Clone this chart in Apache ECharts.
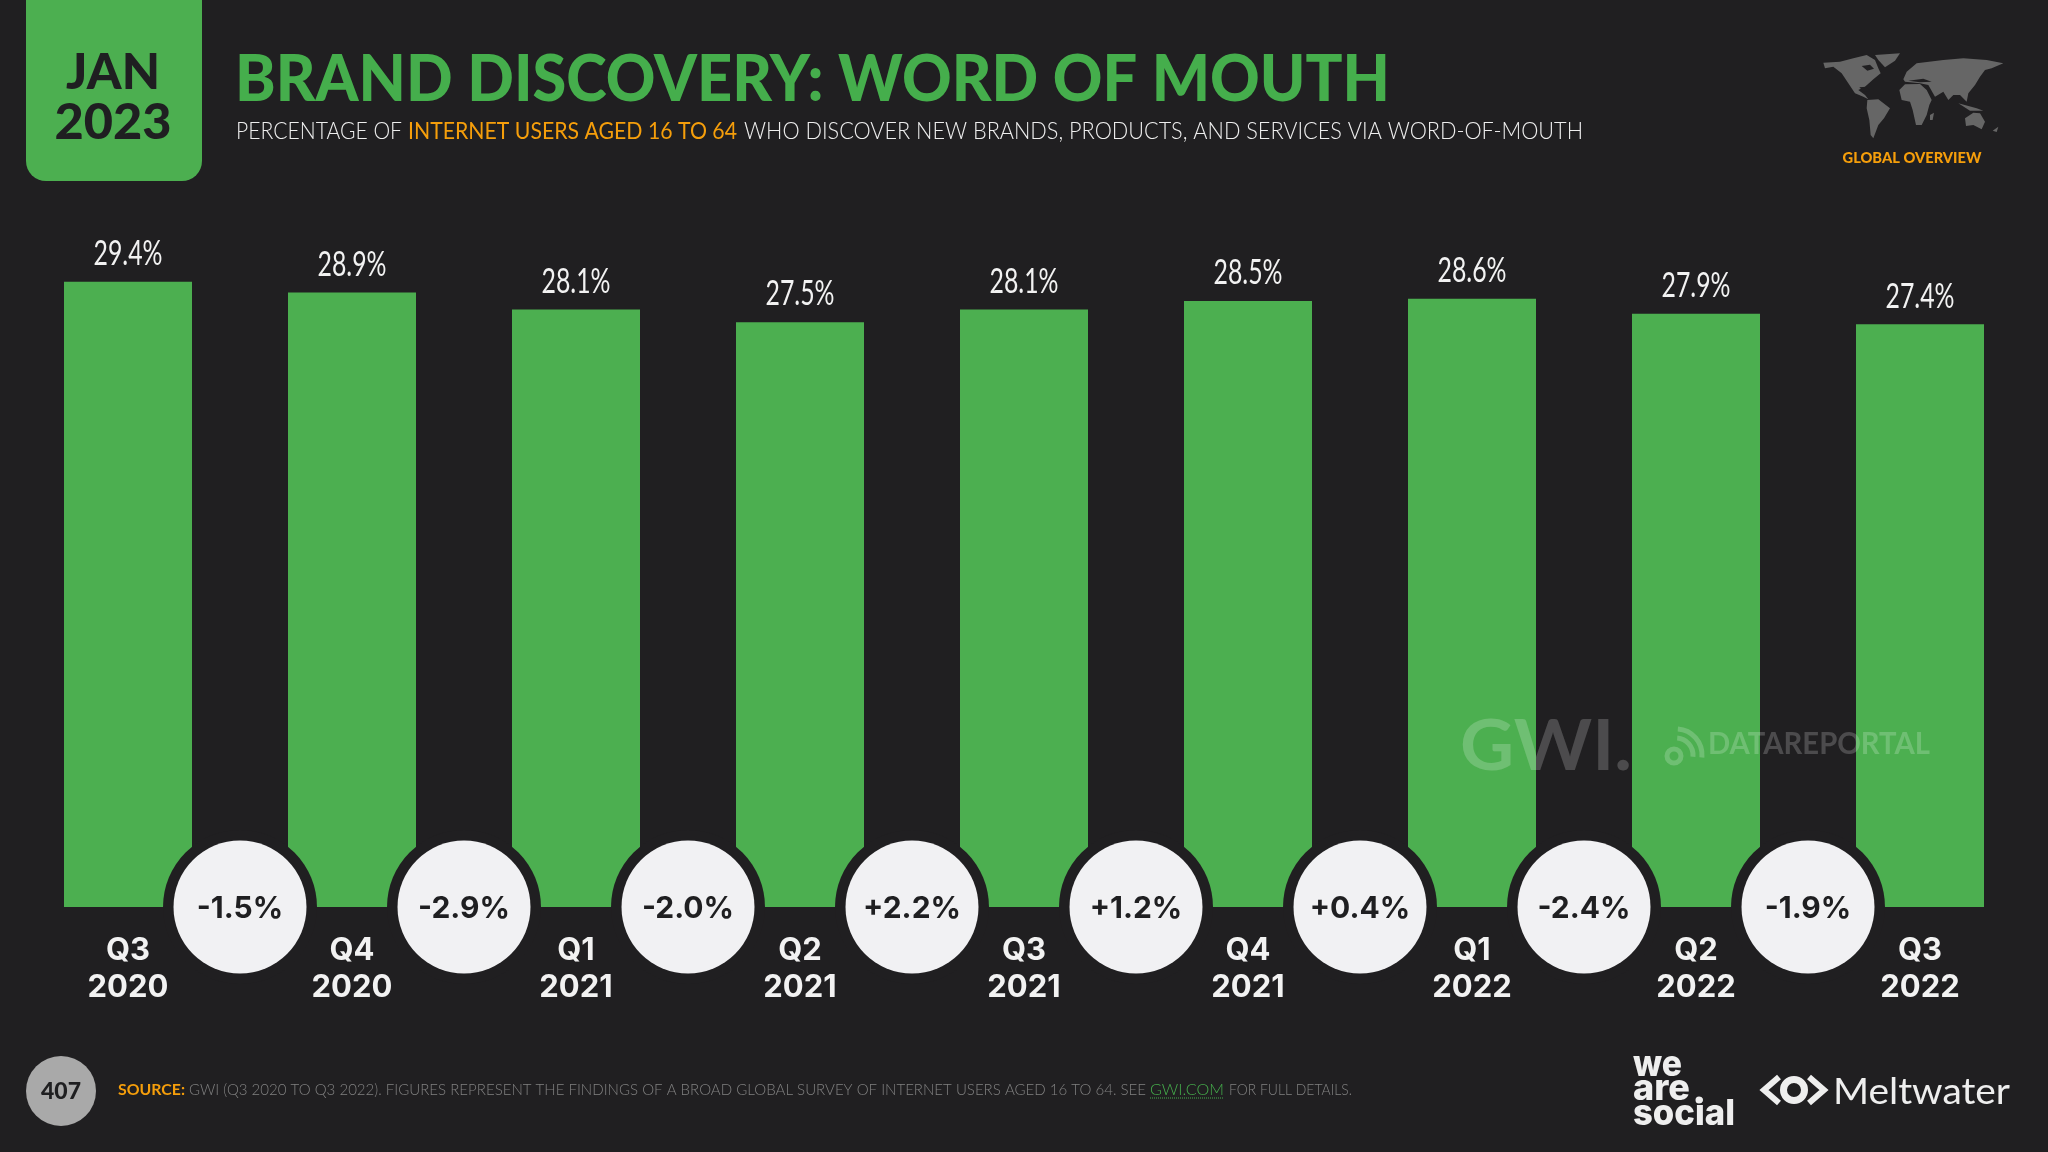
<!DOCTYPE html>
<html>
<head>
<meta charset="utf-8">
<style>html,body{margin:0;background:#201f21}#chart{width:2048px;height:1152px}</style>
<script src="https://cdn.jsdelivr.net/npm/echarts@6/dist/echarts.min.js"></script>
</head>
<body>
<div id="chart"></div>
<script>
var quarters = ['Q3\n2020','Q4\n2020','Q1\n2021','Q2\n2021','Q3\n2021','Q4\n2021','Q1\n2022','Q2\n2022','Q3\n2022'];
var shares = [29.4,28.9,28.1,27.5,28.1,28.5,28.6,27.9,27.4];
var changes = ['-1.5%','-2.9%','-2.0%','+2.2%','+1.2%','+0.4%','-2.4%','-1.9%'];

var BG = '#201f21', GREEN = '#4caf50', TITLE_GREEN = '#45ae4c', ORANGE = '#f59e0b', INK = '#1f1f21', LOGO = '#eeeeee', SOURCE_GREY = '#808080';
var WATERMARK = 'rgba(255,255,255,0.2)';

// no condensed font on the box, so text gets squeezed to the width it has in the picture
var measure = document.createElement('canvas').getContext('2d');
function textWidth(text, font) {
    measure.font = font;
    return measure.measureText(text).width;
}
function fitText(text, font, width, x, y, fill, align) {
    return { type: 'text', x: x, y: y, scaleX: width / textWidth(text, font), z: 10,
        style: { text: text, font: font, fill: fill, align: align || 'left', verticalAlign: 'middle' } };
}

// world map behind GLOBAL OVERVIEW, rough outlines only
var mapShapes = [
    [[40,68],[90,65],[130,55],[170,45],[195,60],[205,85],[212,100],[190,118],[165,140],[145,150],[165,165],[175,178],[160,170],[135,160],[115,130],[95,100],[70,80],[45,85]],
    [[195,45],[270,40],[255,62],[225,82],[205,60]],
    [[172,180],[205,178],[240,205],[222,235],[205,255],[190,295],[182,285],[178,240],[170,205]],
    [[268,150],[285,133],[330,132],[350,150],[365,180],[358,195],[350,225],[335,255],[318,255],[308,210],[300,185],[275,180]],
    [[280,118],[290,95],[320,70],[400,60],[460,55],[530,60],[580,70],[545,85],[525,90],[510,110],[495,135],[475,160],[470,185],[450,165],[430,165],[415,180],[400,155],[375,170],[355,135],[330,130],[285,125]],
    [[465,235],[490,218],[510,220],[525,245],[515,268],[490,255],[468,258]],
    [[360,225],[372,218],[368,240],[360,240]],
    [[445,190],[500,205],[520,212],[480,212]],
    [[548,272],[565,260],[560,276]]
];
var mapSeas = [
    [[155,78],[180,74],[192,86],[172,92]],
    [[148,142],[170,140],[180,152],[162,156]],
    [[295,122],[340,116],[365,125],[330,127]]
];
var mapGroup = { type: 'group', x: 1810, y: 40, scaleX: 1 / 3, scaleY: 1 / 3,
    children: mapShapes.map(function (p) {
        return { type: 'polygon', shape: { points: p }, style: { fill: '#666666' } };
    }).concat(mapSeas.map(function (p) {
        return { type: 'polygon', shape: { points: p }, style: { fill: BG } };
    }))
};

var subFont = '300 23px Lato';
var srcFont = '300 16px Lato';

// the change bubbles sit on the baseline, half way between two bars
var bubblePoints = changes.map(function (c, i) { return [i + 1, 0, c]; });
var valuePoints = shares.map(function (v, i) { return [i, v]; });

var labelFont = '35px Lato';
function renderValueLabel(params, api) {
    var top = api.coord([api.value(0), api.value(1)]);
    var text = api.value(1).toFixed(1) + '%';
    return { type: 'text', x: top[0], y: top[1] - 28, scaleX: 69 / textWidth(text, labelFont),
        style: { text: text, font: labelFont, fill: '#f2f2f2', align: 'center', verticalAlign: 'middle' } };
}

var myChart = echarts.init(document.getElementById('chart'));
myChart.setOption({
    backgroundColor: BG,
    animation: false,
    grid: { left: 16, right: 16, top: 269, height: 638 },
    xAxis: [
        { type: 'category', data: quarters, axisLine: { show: false }, axisTick: { show: false },
          axisLabel: { color: '#f2f2f2', fontFamily: 'Inter', fontWeight: 'bold', fontSize: 31, lineHeight: 37, margin: 25 } },
        { type: 'value', min: 0, max: 9, show: false }
    ],
    yAxis: { type: 'value', min: 0, max: 30, show: false },
    series: [
        { type: 'bar', data: shares, barWidth: 128, itemStyle: { color: GREEN } },
        { type: 'custom', data: valuePoints, renderItem: renderValueLabel, clip: false, silent: true },
        { type: 'scatter', xAxisIndex: 1, data: bubblePoints, symbolSize: 154, clip: false, itemStyle: { color: BG, opacity: 1 }, silent: true },
        { type: 'scatter', xAxisIndex: 1, data: bubblePoints, symbolSize: 133, clip: false, itemStyle: { color: '#f1f1f3', opacity: 1 },
          label: { show: true, position: 'inside', offset: [0, 2], color: INK, fontFamily: 'Inter', fontWeight: 'bold', fontSize: 30,
                   formatter: function (p) { return p.value[2]; } } }
    ],
    graphic: [
        { type: 'rect', shape: { x: 26, y: -30, width: 176, height: 211, r: 20 }, style: { fill: GREEN } },
        fitText('JAN', '900 50px Lato', 94, 113, 73, INK, 'center'),
        fitText('2023', '900 50px Lato', 117, 113, 123, INK, 'center'),
        fitText('BRAND DISCOVERY: WORD OF MOUTH', '900 64px Lato', 1155, 235, 80, TITLE_GREEN),
        fitText('PERCENTAGE OF', subFont, 166, 236, 132, LOGO),
        fitText('INTERNET USERS AGED 16 TO 64', '23px Lato', 329, 408, 132, ORANGE),
        fitText('WHO DISCOVER NEW BRANDS, PRODUCTS, AND SERVICES VIA WORD-OF-MOUTH', subFont, 839, 744, 132, LOGO),
        mapGroup,
        fitText('GLOBAL OVERVIEW', '900 15px Lato', 139, 1912, 158, ORANGE, 'center'),
        { type: 'circle', shape: { cx: 61, cy: 1091, r: 35 }, style: { fill: '#a9a9a9' } },
        fitText('407', '900 23px Lato', 40, 61, 1092, INK, 'center'),
        fitText('SOURCE:', 'bold 16px Lato', 67, 118, 1090, ORANGE),
        fitText('GWI (Q3 2020 TO Q3 2022). FIGURES REPRESENT THE FINDINGS OF A BROAD GLOBAL SURVEY OF INTERNET USERS AGED 16 TO 64. SEE', srcFont, 957, 189, 1090, SOURCE_GREY),
        fitText('GWI.COM', srcFont, 74, 1150, 1090, TITLE_GREEN),
        fitText('FOR FULL DETAILS.', srcFont, 123, 1229, 1090, SOURCE_GREY),
        { type: 'line', shape: { x1: 1150, y1: 1098, x2: 1224, y2: 1098 }, style: { stroke: TITLE_GREEN, lineWidth: 1, lineDash: [1, 1] } },
        // watermarks go over the bars
        fitText('GWI.', 'bold 70px Lato', 172, 1460, 747, WATERMARK),
        fitText('DATAREPORTAL', 'bold 30px Lato', 222, 1708, 744, WATERMARK),
        { type: 'arc', z: 10, shape: { cx: 1676, cy: 755, r: 17, startAngle: -1.5, endAngle: 0.1 }, style: { fill: 'none', stroke: WATERMARK, lineWidth: 5 } },
        { type: 'arc', z: 10, shape: { cx: 1676, cy: 755, r: 26, startAngle: -1.5, endAngle: 0.1 }, style: { fill: 'none', stroke: WATERMARK, lineWidth: 5 } },
        { type: 'circle', z: 10, shape: { cx: 1674, cy: 756, r: 7 }, style: { fill: 'none', stroke: WATERMARK, lineWidth: 5 } },
        // logos
        fitText('we', '800 36px Inter', 49, 1633, 1065, LOGO),
        fitText('are', '800 36px Inter', 57, 1633, 1089, LOGO),
        fitText('social', '800 36px Inter', 102, 1633, 1114, LOGO),
        { type: 'circle', shape: { cx: 1699, cy: 1100, r: 3.5 }, style: { fill: LOGO } },
        { type: 'polyline', shape: { points: [[1779, 1077], [1764, 1090], [1779, 1103]] }, style: { fill: 'none', stroke: LOGO, lineWidth: 6 } },
        { type: 'polyline', shape: { points: [[1809, 1077], [1824, 1090], [1809, 1103]] }, style: { fill: 'none', stroke: LOGO, lineWidth: 6 } },
        { type: 'circle', shape: { cx: 1794, cy: 1090, r: 10.5 }, style: { fill: 'none', stroke: LOGO, lineWidth: 7 } },
        fitText('Meltwater', '37px Lato', 177, 1833, 1092, LOGO)
    ]
});
</script>
</body>
</html>
